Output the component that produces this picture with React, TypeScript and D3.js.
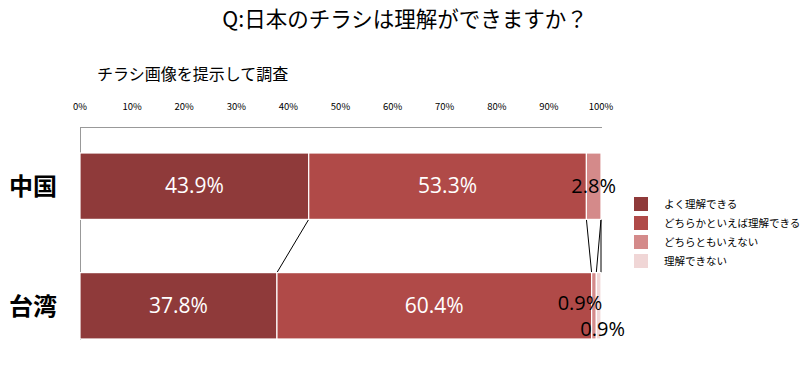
import React from 'react';
import * as d3 from 'd3';

const categories = ['中国', '台湾'];
const seriesNames = ['よく理解できる', 'どちらかといえば理解できる', 'どちらともいえない', '理解できない'];
const chinaValues = [43.9, 53.3, 2.8, 0];
const taiwanValues = [37.8, 60.4, 0.9, 0.9];
const tickValues = [0, 10, 20, 30, 40, 50, 60, 70, 80, 90, 100];
const colors = ['#8f3a3a', '#b04a48', '#d48a8a', '#f0d6d6'];

const W = 800;
const H = 373;

const App = () => {
  const x = d3.scaleLinear().domain([0, 100]).range([80, 601]);
  const y = d3.scaleBand().domain(categories).range([153, 339]).paddingInner(0.445).paddingOuter(0);
  const rows = [chinaValues, taiwanValues];
  const stacked = rows.map((vals) => {
    let acc = 0;
    return vals.map((v) => {
      const s = acc;
      acc += v;
      return [s, acc];
    });
  });
  const bw = y.bandwidth();
  const font = "'Noto Sans CJK JP', 'Noto Sans', sans-serif";
  const numFont = "'Open Sans', 'Noto Sans', sans-serif";

  // small labels positions (offsets relative to segment)
  const smallLabels = [
    { row: 0, seg: 2, dx: 0, dy: 0 },
    { row: 1, seg: 2, dx: -14, dy: -3 },
    { row: 1, seg: 3, dx: 4, dy: 23 },
  ];

  return (
    <svg width={W} height={H} style={{ position: 'absolute', left: 0, top: 0, background: '#fff' }}>
      <text x={405} y={27} textAnchor="middle" fontSize={21.5} fontFamily={font} fill="#000">
        Q:日本のチラシは理解ができますか？
      </text>
      <text x={97} y={80} fontSize={16} fontFamily={font} fill="#000">
        チラシ画像を提示して調査
      </text>
      {tickValues.map((t) => (
        <text key={t} x={x(t)} y={110} textAnchor="middle" fontSize={9.5} fontFamily={font} fill="#000">
          {t}%
        </text>
      ))}
      <line x1={80} x2={602} y1={127.5} y2={127.5} stroke="#999" />
      <line x1={80.5} x2={80.5} y1={127} y2={340} stroke="#999" />
      {/* connector lines between series boundaries */}
      {stacked[0].map((seg, i) => (
        <line
          key={'c' + i}
          x1={x(seg[1])}
          y1={(y(categories[0]) as number) + bw}
          x2={x(stacked[1][i][1])}
          y2={y(categories[1]) as number}
          stroke="#000"
          strokeWidth={1}
        />
      ))}
      {stacked.map((segs, r) =>
        segs.map((seg, i) =>
          seg[1] - seg[0] > 0 ? (
            <rect
              key={r + '-' + i}
              x={x(seg[0])}
              y={y(categories[r])}
              width={x(seg[1]) - x(seg[0])}
              height={bw}
              fill={colors[i]}
              stroke="#fff"
              strokeWidth={1.2}
            />
          ) : null
        )
      )}
      {stacked.map((segs, r) =>
        segs.map((seg, i) =>
          seg[1] - seg[0] > 10 ? (
            <text
              key={'l' + r + '-' + i}
              x={(x(seg[0]) + x(seg[1])) / 2}
              y={(y(categories[r]) as number) + bw / 2 + 7}
              textAnchor="middle"
              fontSize={21}
              fontFamily={numFont}
              fill="#fff"
            >
              {rows[r][i].toFixed(1)}%
            </text>
          ) : null
        )
      )}
      {smallLabels.map((l, k) => {
        const seg = stacked[l.row][l.seg];
        return (
          <text
            key={'s' + k}
            x={(x(seg[0]) + x(seg[1])) / 2 + l.dx}
            y={(y(categories[l.row]) as number) + bw / 2 + 7 + l.dy}
            textAnchor="middle"
            fontSize={20}
            fontFamily={numFont}
            fill="#000"
          >
            {rows[l.row][l.seg].toFixed(1)}%
          </text>
        );
      })}
      {categories.map((c) => (
        <text
          key={c}
          x={33}
          y={(y(c) as number) + bw / 2 + 9}
          textAnchor="middle"
          fontSize={24}
          fontWeight="bold"
          fontFamily={font}
          fill="#000"
        >
          {c}
        </text>
      ))}
      {seriesNames.map((s, i) => (
        <g key={s} transform={`translate(634,${197 + i * 19})`}>
          <rect width={14} height={14} fill={colors[i]} />
          <text x={30} y={11} fontSize={10.5} fontFamily={font} fill="#000">
            {s}
          </text>
        </g>
      ))}
    </svg>
  );
};

export default App;
